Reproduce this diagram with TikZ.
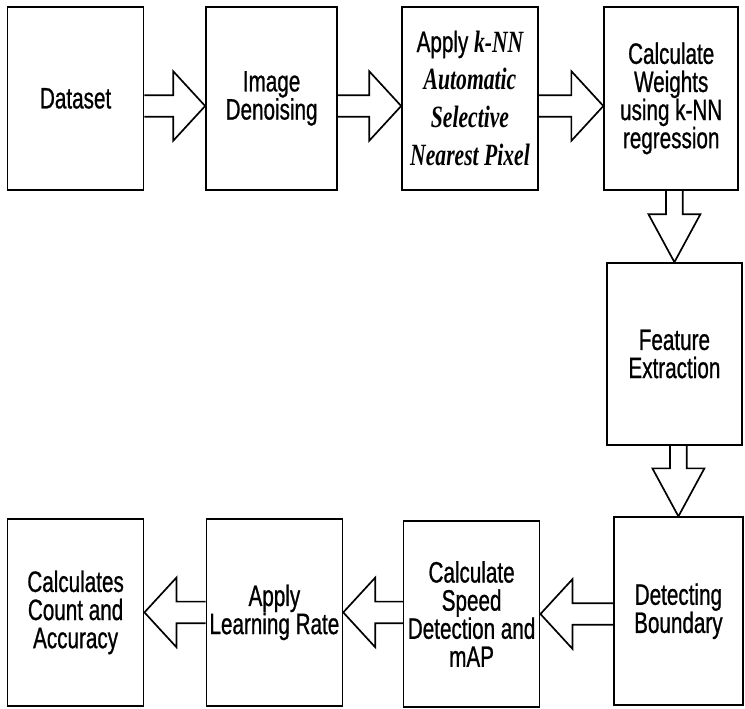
\documentclass[tikz,border=0pt]{standalone}
\usepackage{fontspec}
\setmainfont{Liberation Sans}[FakeStretch=0.7,FakeBold=0.8]
\newfontfamily\seriffont{Liberation Serif}[FakeStretch=0.7]
\usetikzlibrary{calc}

% hollow block arrows between two boxes
\newcommand{\rblock}[2]{\draw[blockarrow] let \p1=(#1.east), \p2=($(#2.west)+(0,-0.19)$) in
  (\x1,{\y2+0.27cm}) -- ({\x2-0.8cm},{\y2+0.27cm}) -- ({\x2-0.8cm},{\y2+0.87cm}) -- (\x2,\y2)
  -- ({\x2-0.8cm},{\y2-0.87cm}) -- ({\x2-0.8cm},{\y2-0.27cm}) -- (\x1,{\y2-0.27cm});}
\newcommand{\lblock}[2]{\draw[blockarrow] let \p1=(#1.west), \p2=(#2.east) in
  (\x1,{\y2+0.27cm}) -- ({\x2+0.8cm},{\y2+0.27cm}) -- ({\x2+0.8cm},{\y2+0.87cm}) -- (\x2,\y2)
  -- ({\x2+0.8cm},{\y2-0.87cm}) -- ({\x2+0.8cm},{\y2-0.27cm}) -- (\x1,{\y2-0.27cm});}
\newcommand{\dblock}[2]{\draw[blockarrow] let \p1=(#1.south), \p2=(#2.north) in
  ({\x2-0.21cm},\y1) -- ({\x2-0.21cm},{\y2+1.2cm}) -- ({\x2-0.65cm},{\y2+1.2cm}) -- (\x2,\y2)
  -- ({\x2+0.65cm},{\y2+1.2cm}) -- ({\x2+0.21cm},{\y2+1.2cm}) -- ({\x2+0.21cm},\y1);}
\newcommand{\knnit}[1]{{\seriffont\bfseries\itshape\fontsize{22}{20}\selectfont #1}}

\begin{document}
\begin{tikzpicture}[box/.style={draw,line width=1.2pt,minimum width=3.4cm,minimum height=4.58cm,inner sep=1pt,align=center,font=\fontsize{21}{20}\selectfont},
  blockarrow/.style={line width=1.2pt,line join=miter}]
\useasboundingbox (0,0) rectangle (18.625,-17.7);
\node[box] (data) at (1.89,-2.46) {Dataset};
\node[box,minimum width=3.28cm] (denoise) at (6.79,-2.46) {Image\\Denoising};
\node[box] (knn) at (11.75,-2.46) {Apply \knnit{k-NN}\\[7pt]\knnit{Automatic}\\[7pt]\knnit{Selective}\\[7pt]\knnit{Nearest Pixel}};
\node[box,minimum width=3.35cm] (weights) at (16.78,-2.46) {Calculate\\Weights\\using k-NN\\regression};
\node[box,minimum width=3.38cm,minimum height=4.55cm] (feature) at (16.86,-8.85) {Feature\\Extraction};
\node[box,minimum width=3.23cm,minimum height=4.7cm] (boundary) at (16.96,-15.28) {Detecting\\Boundary};
\node[box,minimum height=4.65cm] (speed) at (11.79,-15.35) {Calculate\\Speed\\Detection and\\mAP};
\node[box,minimum height=4.68cm] (lrate) at (6.86,-15.31) {Apply\\Learning Rate};
\node[box,minimum height=4.68cm] (count) at (1.89,-15.31) {Calculates\\Count and\\Accuracy};
\rblock{data}{denoise}
\rblock{denoise}{knn}
\rblock{knn}{weights}
\dblock{weights}{feature}
\dblock{feature}{boundary}
\lblock{boundary}{speed}
\lblock{speed}{lrate}
\lblock{lrate}{count}
\end{tikzpicture}
\end{document}
